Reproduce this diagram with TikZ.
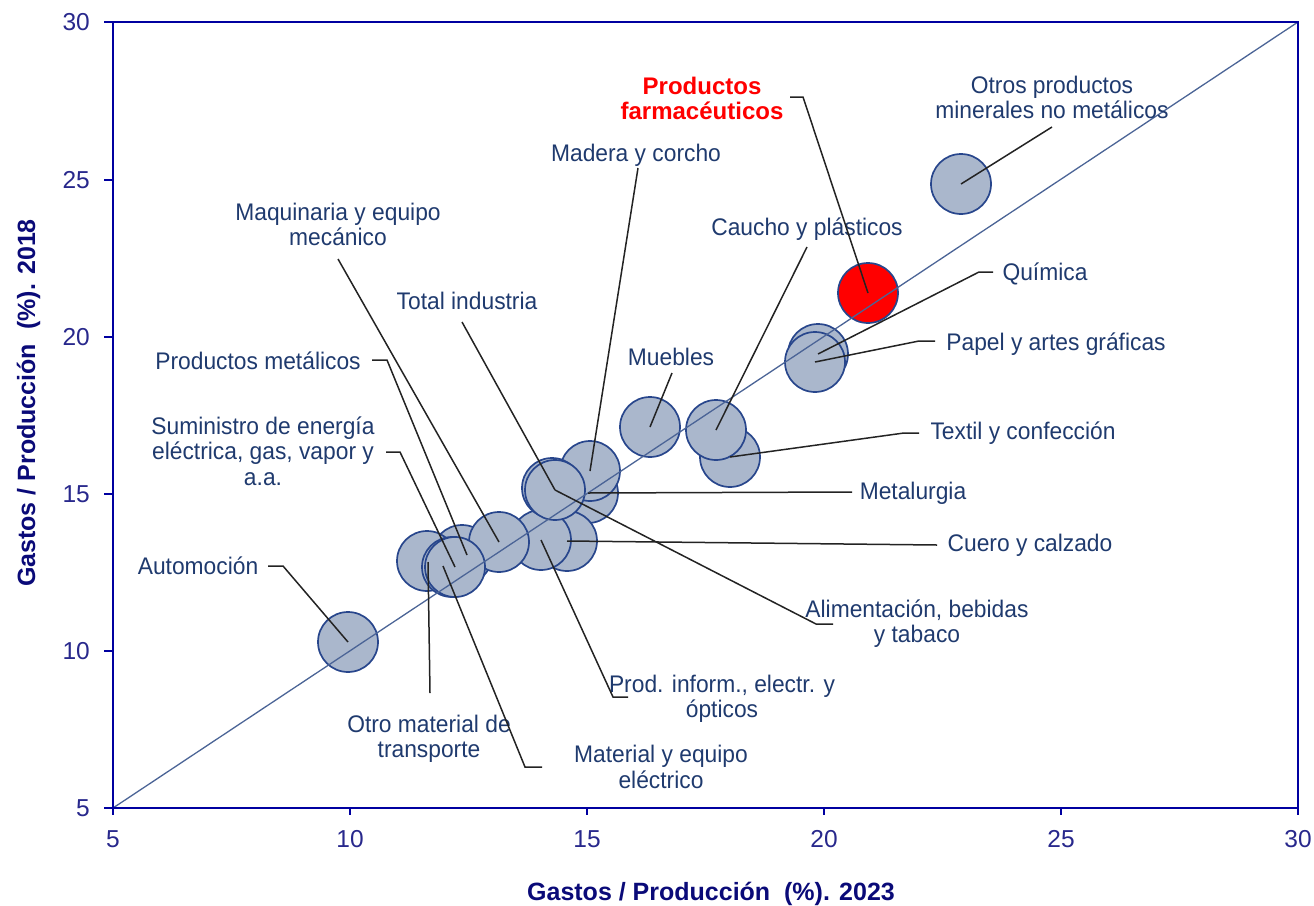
\documentclass[tikz,border=0pt]{standalone}
\usepackage{fontspec}
\setmainfont{Liberation Sans}
\newfontfamily\labfont[FakeStretch=0.95]{Liberation Sans}
\definecolor{axisblue}{RGB}{0,0,160}
\definecolor{ticktext}{RGB}{40,40,140}
\definecolor{titletext}{RGB}{10,10,120}
\definecolor{labtext}{RGB}{31,58,110}
\definecolor{bubfill}{RGB}{170,183,204}
\definecolor{bubedge}{RGB}{40,70,140}
\definecolor{diagcol}{RGB}{75,100,150}
\definecolor{leadcol}{RGB}{35,35,35}
\definecolor{pharmared}{RGB}{255,0,0}
\begin{document}
\begin{tikzpicture}[x=1pt,y=-1pt,
  bubble/.style={circle, draw=bubedge, fill=bubfill, line width=1.7pt, minimum size=60pt, inner sep=0pt},
  lab/.style={font=\labfont\fontsize{24}{25.5}\selectfont, text=labtext, align=center, inner sep=0pt},
  redlab/.style={font=\bfseries\fontsize{24}{25.5}\selectfont, text=pharmared, align=center, inner sep=0pt},
  leader/.style={draw=leadcol, line width=1.5pt},
  ticklab/.style={font=\fontsize{24.5}{26}\selectfont, text=ticktext, inner sep=0pt},
  axtitle/.style={font=\bfseries\fontsize{25}{27}\selectfont, text=titletext, inner sep=0pt},
  axline/.style={draw=axisblue, line width=2.6pt},
  tickmark/.style={draw=axisblue, line width=2pt}
]
\path[use as bounding box] (0,0) rectangle (1314,905);

% plot corners
\coordinate (ll) at (113,808);
\coordinate (ur) at (1298,22);

% bubbles (bottom to top)
\node[bubble] (b-otros) at (961,184) {};
\node[bubble, fill=pharmared] (b-farma) at (868,293) {};
\node[bubble] (b-quim) at (818,354) {};
\node[bubble] (b-papel) at (815,362) {};
\node[bubble] (b-textil) at (730,457) {};
\node[bubble] (b-caucho) at (716,430) {};
\node[bubble] (b-muebles) at (650,427) {};
\node[bubble] (b-metal) at (588,493) {};
\node[bubble] (b-madera) at (590,471) {};
\node[bubble] (b-cuero) at (567,541) {};
\node[bubble] (b-prodinf) at (541,540) {};
\node[bubble] (b-alim) at (552,488) {};
\node[bubble] (b-total) at (555,490) {};
\node[bubble] (b-prodmet) at (462,555) {};
\node[bubble] (b-maq) at (499,542) {};
\node[bubble] (b-otro) at (427,561) {};
\node[bubble] (b-mat) at (452,567) {};
\node[bubble] (b-sumin) at (455,567) {};
\node[bubble] (b-auto) at (348,642) {};

% diagonal
\draw[draw=diagcol, line width=1.3pt] (ll) -- (ur);

% frame
\draw[axline] (113,22) rectangle (1298,808);

% ticks and tick labels
\foreach \v/\px in {5/113,10/350,15/587,20/824,25/1061,30/1298}{
  \draw[tickmark] (\px,808) -- (\px,815);
  \node[ticklab] (xt\v) at (\px,839) {\v};
}
\foreach \v/\py in {5/808,10/651,15/494,20/337,25/180,30/22}{
  \draw[tickmark] (104,\py) -- (113,\py);
  \node[ticklab, anchor=east] (yt\v) at (90,\py) {\v};
}

% axis titles
\node[axtitle, anchor=base] (xtitle) at (711,900) {Gastos / Producción \ (\%). 2023};
\node[axtitle, anchor=base, rotate=90] (ytitle) at (35,403) {Gastos / Producción \ (\%). 2018};

% labels
\node[lab] (l-otros) at (1052,97.5) {Otros productos\\minerales no metálicos};
\node[redlab] (l-farma) at (702,98.5) {Productos\\farmacéuticos};
\node[lab] (l-madera) at (636,155) {Madera y corcho};
\node[lab] (l-caucho) at (807,229) {Caucho y plásticos};
\node[lab] (l-muebles) at (671,357) {Muebles};
\node[lab] (l-quim) at (1045,274) {Química};
\node[lab] (l-papel) at (1056,344) {Papel y artes gráficas};
\node[lab] (l-textil) at (1023,433) {Textil y confección};
\node[lab] (l-metal) at (913,493) {Metalurgia};
\node[lab] (l-cuero) at (1030,545) {Cuero y calzado};
\node[lab] (l-alim) at (917,623.5) {Alimentación, bebidas\\y tabaco};
\node[lab] (l-prodinf) at (722,699) {Prod. inform., electr. y\\ópticos};
\node[lab] (l-mat) at (661,767) {Material y equipo\\eléctrico};
\node[lab] (l-otro) at (429,739) {Otro material de\\transporte};
\node[lab] (l-auto) at (198,566) {Automoción};
\node[lab] (l-sumin) at (263,451) {Suministro de energía\\eléctrica, gas, vapor y\\a.a.};
\node[lab] (l-prodmet) at (258,361) {Productos metálicos};
\node[lab] (l-maq) at (338,224.5) {Maquinaria y equipo\\mecánico};
\node[lab] (l-total) at (467,301) {Total industria};

% leader start points
\coordinate (s-otros) at (1052,127);
\coordinate (s-farma) at (790,97);
\coordinate (s-madera) at (638,168);
\coordinate (s-caucho) at (807,247);
\coordinate (s-muebles) at (672,373);
\coordinate (s-quim) at (993,272);
\coordinate (s-papel) at (935,341);
\coordinate (s-textil) at (919,433);
\coordinate (s-metal) at (852,492);
\coordinate (s-cuero) at (937,545);
\coordinate (s-alim) at (833,624);
\coordinate (s-prodinf) at (628,697);
\coordinate (s-mat) at (542,767);
\coordinate (s-otro) at (430,693);
\coordinate (s-auto) at (268,566);
\coordinate (s-sumin) at (386,452);
\coordinate (s-prodmet) at (372,360);
\coordinate (s-maq) at (338,259);
\coordinate (s-total) at (462,322);

% leaders
\draw[leader] (s-otros) -- (b-otros.center);
\draw[leader] (s-farma) -- ++(13,0) -- (b-farma.center);
\draw[leader] (s-madera) -- (b-madera.center);
\draw[leader] (s-caucho) -- (b-caucho.center);
\draw[leader] (s-muebles) -- (b-muebles.center);
\draw[leader] (s-quim) -- ++(-14,0) -- (b-quim.center);
\draw[leader] (s-papel) -- ++(-16,0) -- (b-papel.center);
\draw[leader] (s-textil) -- ++(-15,0) -- (b-textil.center);
\draw[leader] (s-metal) -- (b-metal.center);
\draw[leader] (s-cuero) -- (b-cuero.center);
\draw[leader] (s-alim) -- ++(-17,0) -- ([shift={(3,2)}]b-alim.center);
\draw[leader] (s-prodinf) -- ++(-15,0) -- (b-prodinf.center);
\draw[leader] (s-mat) -- ++(-17,0) -- ([shift={(-9,-1)}]b-mat.center);
\draw[leader] (s-otro) -- ([shift={(1,1)}]b-otro.center);
\draw[leader] (s-auto) -- ++(15,0) -- (b-auto.center);
\draw[leader] (s-sumin) -- ++(14,0) -- (b-sumin.center);
\draw[leader] (s-prodmet) -- ++(15,0) -- ([shift={(5,0)}]b-prodmet.center);
\draw[leader] (s-maq) -- (b-maq.center);
\draw[leader] (s-total) -- (b-total.center);
\end{tikzpicture}
\end{document}
